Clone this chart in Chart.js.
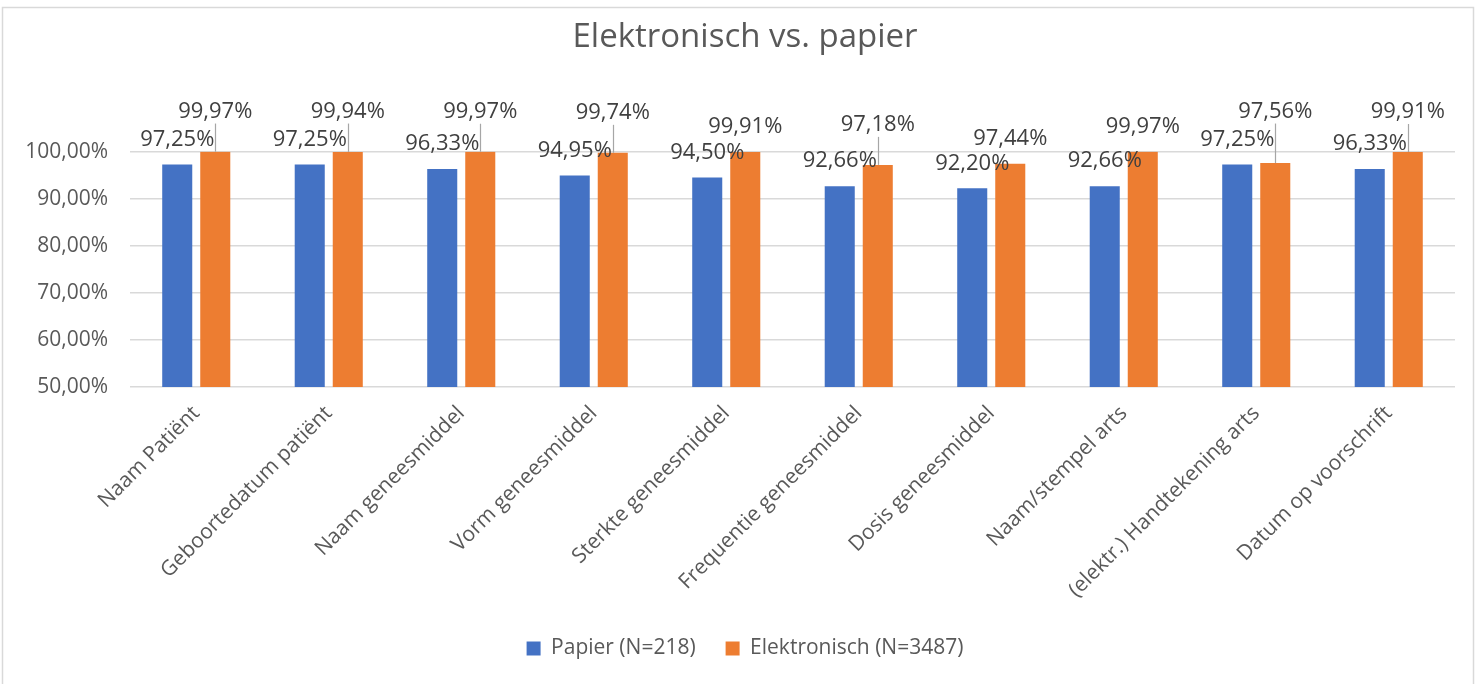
<!DOCTYPE html>
<html>
<head>
<meta charset="utf-8">
<script src="https://cdn.jsdelivr.net/npm/chart.js@4/dist/chart.umd.min.js"></script>
<style>
  html, body { margin: 0; padding: 0; background: #ffffff; }
  #wrap { position: relative; width: 1475px; height: 684px; }
</style>
</head>
<body>
<div id="wrap"><canvas id="c" width="1475" height="684"></canvas></div>
<script>
const categories = [
  'Naam Patiënt',
  'Geboortedatum patiënt',
  'Naam geneesmiddel',
  'Vorm geneesmiddel',
  'Sterkte geneesmiddel',
  'Frequentie geneesmiddel',
  'Dosis geneesmiddel',
  'Naam/stempel arts',
  '(elektr.) Handtekening arts',
  'Datum op voorschrift'
];
const papier = [97.25, 97.25, 96.33, 94.95, 94.50, 92.66, 92.20, 92.66, 97.25, 96.33];
const elektronisch = [99.97, 99.94, 99.97, 99.74, 99.91, 97.18, 97.44, 99.97, 97.56, 99.91];
const seriesNames = ['Papier (N=218)', 'Elektronisch (N=3487)'];
const yTicks = [50, 60, 70, 80, 90, 100];
const titleText = 'Elektronisch vs. papier';

const FONT = '"Open Sans", "DejaVu Sans", sans-serif';
const fmt = v => v.toFixed(2).replace('.', ',') + '%';

const frame = {
  id: 'frame',
  beforeDraw(chart) {
    const ctx = chart.ctx;
    ctx.save();
    ctx.fillStyle = '#ffffff';
    ctx.fillRect(0, 0, chart.width, chart.height);
    ctx.strokeStyle = '#d9d9d9';
    ctx.lineWidth = 1.5;
    ctx.strokeRect(2.5, 7.5, chart.width - 4, chart.height - 6);
    ctx.restore();
  }
};

const labels = {
  id: 'barLabels',
  afterDatasetsDraw(chart) {
    const ctx = chart.ctx;
    const m0 = chart.getDatasetMeta(0);
    const m1 = chart.getDatasetMeta(1);
    ctx.save();
    ctx.font = '22px ' + FONT;
    ctx.textAlign = 'center';
    ctx.textBaseline = 'middle';
    for (let i = 0; i < categories.length; i++) {
      const b = m0.data[i], o = m1.data[i];
      const by = b.y - 25;
      let oy = o.y - 25;
      if (by - oy < 24) {
        oy = Math.min(o.y - 40, by - 28);
        ctx.strokeStyle = '#a6a6a6';
        ctx.lineWidth = 1.2;
        ctx.beginPath();
        ctx.moveTo(Math.round(o.x) + 0.5, oy + 12);
        ctx.lineTo(Math.round(o.x) + 0.5, o.y);
        ctx.stroke();
      }
      ctx.fillStyle = '#404040';
      ctx.fillText(fmt(papier[i]), b.x, by);
      ctx.fillText(fmt(elektronisch[i]), o.x, oy);
    }
    ctx.restore();
  }
};

new Chart(document.getElementById('c'), {
  type: 'bar',
  data: {
    labels: categories,
    datasets: [
      { label: seriesNames[0], data: papier, backgroundColor: '#4472C4', borderWidth: 0 },
      { label: seriesNames[1], data: elektronisch, backgroundColor: '#ED7D31', borderWidth: 0 }
    ]
  },
  options: {
    responsive: false,
    animation: false,
    devicePixelRatio: 1,
    layout: { padding: { left: 15, right: 0, top: 0, bottom: 15 } },
    categoryPercentage: 0.574,
    barPercentage: 0.79,
    plugins: {
      title: {
        display: true,
        text: titleText,
        color: '#595959',
        font: { family: FONT, size: 33, weight: 'normal' },
        padding: { top: 18, bottom: 94 }
      },
      legend: {
        position: 'bottom',
        labels: {
          color: '#595959',
          font: { family: FONT, size: 21 },
          boxWidth: 14,
          boxHeight: 14,
          padding: 30
        }
      },
      tooltip: { enabled: false }
    },
    scales: {
      x: {
        grid: { display: false, drawTicks: false },
        border: { display: false },
        ticks: {
          color: '#595959',
          font: { family: FONT, size: 21 },
          minRotation: 45,
          maxRotation: 45,
          padding: 14,
          autoSkip: false
        },
        afterFit(scale) { scale.height = 221; }
      },
      y: {
        min: 50,
        max: 100,
        afterBuildTicks(scale) { scale.ticks = yTicks.map(v => ({ value: v })); },
        grid: { color: '#d9d9d9', lineWidth: 1.5, drawTicks: false },
        border: { display: false },
        ticks: {
          color: '#595959',
          font: { family: FONT, size: 21 },
          padding: 22,
          callback: v => fmt(v)
        },
        afterFit(scale) { scale.width = 115; }
      },
      yRight: {
        position: 'right',
        display: true,
        min: 50,
        max: 100,
        grid: { display: false, drawTicks: false },
        border: { display: false },
        ticks: { display: false },
        afterFit(scale) { scale.width = 20; }
      }
    }
  },
  plugins: [frame, labels]
});
</script>
</body>
</html>
